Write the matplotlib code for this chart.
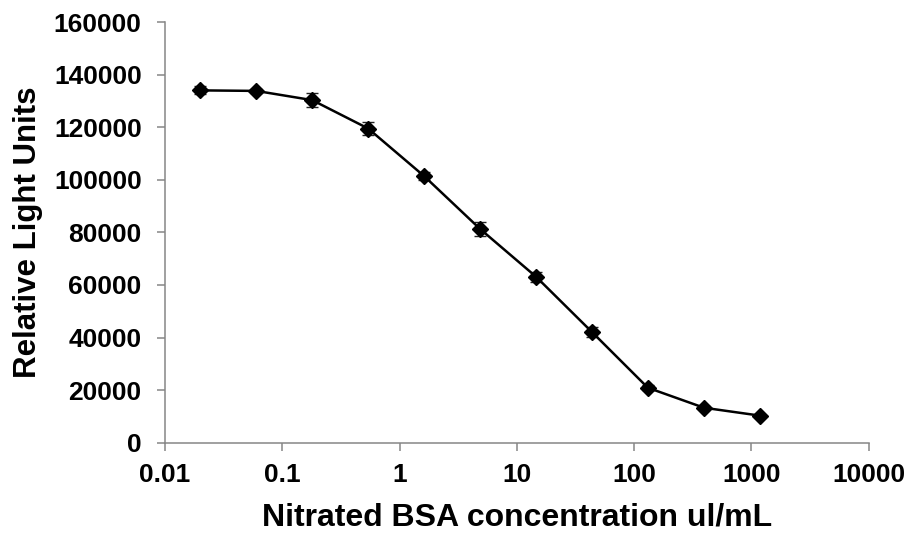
import matplotlib
matplotlib.use("Agg")
import matplotlib.pyplot as plt
from matplotlib.ticker import FixedLocator, FixedFormatter, NullLocator

conc = [0.02, 0.06, 0.18, 0.54, 1.62, 4.86, 14.6, 43.7, 131, 394, 1181]
rlu = [134000, 133800, 130300, 119500, 101400, 81300, 63100, 42100, 20900, 13300, 10300]
err = [1500, 800, 2600, 2600, 1600, 2500, 2000, 1800, 1000, 500, 300]

xticks = [0.01, 0.1, 1, 10, 100, 1000, 10000]
xticklabels = ["0.01", "0.1", "1", "10", "100", "1000", "10000"]
yticks = [0, 20000, 40000, 60000, 80000, 100000, 120000, 140000, 160000]
yticklabels = [str(v) for v in yticks]

plt.rcParams['font.family'] = ['Liberation Sans', 'DejaVu Sans']
fig = plt.figure(figsize=(9.14, 5.37), dpi=100)
ax = fig.add_axes([0.1805, 0.1756, 0.7699, 0.7834])

ax.errorbar(conc, rlu, yerr=err, color='black', marker='D', markersize=8,
            linewidth=1.8, ecolor='#222222', elinewidth=1.0, capsize=4.3, capthick=1.0, zorder=3)

ax.set_xscale('log')
ax.set_xlim(0.01, 10000)
ax.set_ylim(0, 160000)
ax.xaxis.set_major_locator(FixedLocator(xticks))
ax.xaxis.set_major_formatter(FixedFormatter(xticklabels))
ax.xaxis.set_minor_locator(NullLocator())
ax.set_yticks(yticks)
ax.set_yticklabels(yticklabels)

for s in ['top', 'right']:
    ax.spines[s].set_visible(False)
for s in ['left', 'bottom']:
    ax.spines[s].set_color('#868686')
    ax.spines[s].set_linewidth(1.1)
ax.tick_params(axis='both', which='major', direction='out', length=5.8, width=1.1,
               color='#868686', labelsize=19)
ax.tick_params(axis='x', pad=9)
ax.tick_params(axis='y', pad=11)
for lab in ax.get_xticklabels() + ax.get_yticklabels():
    lab.set_fontweight('bold')

ax.set_xlabel('Nitrated BSA concentration ul/mL', fontsize=23, fontweight='bold', labelpad=11)
ax.set_ylabel('Relative Light Units', fontsize=22.5, fontweight='bold', labelpad=8)

fig.savefig('out.png', dpi=100)
